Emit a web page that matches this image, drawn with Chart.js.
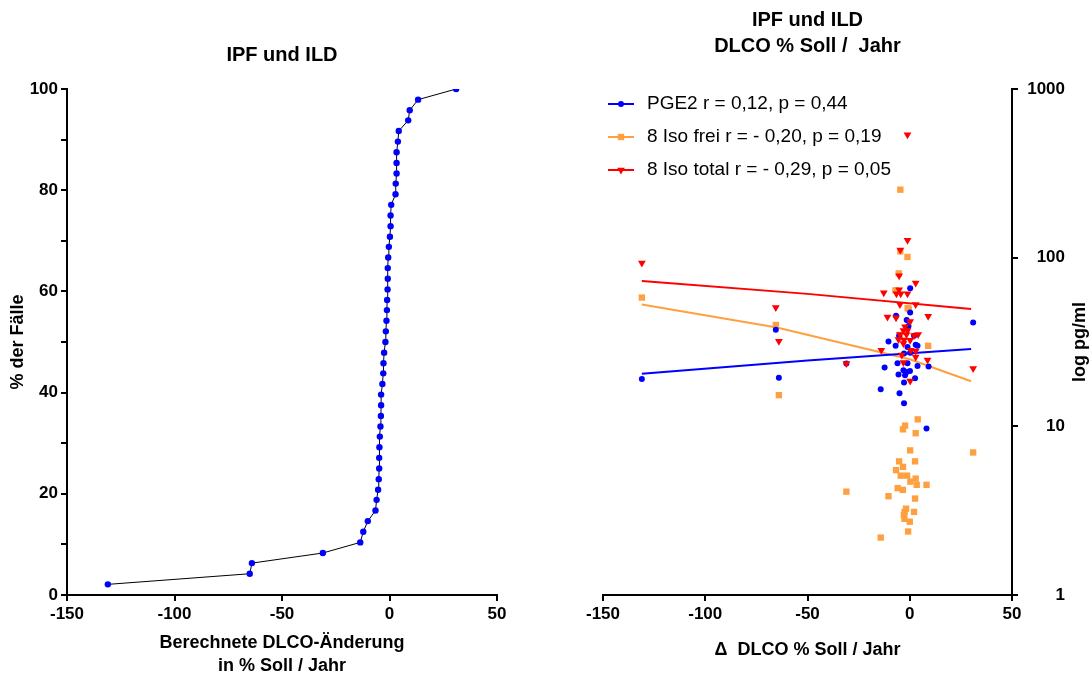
<!DOCTYPE html>
<html>
<head>
<meta charset="utf-8">
<script src="https://cdn.jsdelivr.net/npm/chart.js"></script>
<style>
  body { margin: 0; background: #fff; }
  canvas { position: absolute; top: 0; }
  #links { left: 0; }
  #rechts { left: 546px; }
</style>
</head>
<body>
<canvas id="links" width="546" height="677"></canvas>
<canvas id="rechts" width="546" height="677"></canvas>
<script>
// Kumulative Verteilung der DLCO-Änderung
const kumX = [-131, -65, -64, -31, -13.6, -12.2, -10.1, -6.5, -6.0, -5.3, -5.0, -4.8, -4.8, -4.7, -4.5, -4.2,
  -4.0, -3.9, -3.9, -3.3, -2.9, -2.8, -2.5, -1.9, -1.7, -1.4, -1.2, -1.1, -0.9, -0.8, -0.8, -0.6,
  -0.3, 0.2, 0.5, 0.5, 0.8, 2.8, 2.9, 3.3, 3.3, 3.3, 3.9, 4.3, 8.7, 9.4, 13.3, 31];
const kumY = [2.1, 4.2, 6.3, 8.3, 10.4, 12.5, 14.6, 16.7, 18.8, 20.8, 22.9, 25.0, 27.1, 29.2, 31.3, 33.3,
  35.4, 37.5, 39.6, 41.7, 43.8, 45.8, 47.9, 50.0, 52.1, 54.2, 56.3, 58.3, 60.4, 62.5, 64.6, 66.7,
  68.8, 70.8, 72.9, 75.0, 77.1, 79.2, 81.3, 83.3, 85.4, 87.5, 89.6, 91.7, 93.8, 95.8, 97.9, 100];

// PGE2
const pgeX = [-131, -65.5, -64, -31, 31, 0.2, 0.2, -6.7, -1.5, -0.6, -5.2, 2.1, -10.4, 2.9, 3.8, -6.9,
  -1.1, -2.8, 0.2, -6, -1.1, 3.8, 9.2, -12.3, -3.1, 0.1, -5.5, -2.3, 2.6, -2.8, -14.2, -5.0, -2.8, 8.2, -1.5];
const pgeY = [19.1, 37.4, 19.4, 23.6, 41.3, 65.8, 47.3, 45.3, 42.7, 39.3, 34.4, 34.4, 31.8, 30.5, 30.0, 30.0,
  29.5, 27.0, 27.3, 23.7, 23.7, 22.8, 22.6, 22.3, 21.5, 21.3, 20.3, 20.1, 19.3, 18.2, 16.6, 15.7, 13.7, 9.7, 21.0];

// 8 Iso frei
const freiX = [-131, -65.5, -64, -31, 31, -4.6, -4.6, -1.1, -5.4, -7, -1, -0.5, -4.8, 9.0, 3.9, -2.3,
  -3.3, 2.9, 0.2, -5.2, 2.6, -3.3, -6.7, -4.4, -1.3, 2.9, 0.3, 3.4, 8.2, -5.9, -3.4, -10.4,
  2.6, -1.8, -2.5, 2.1, -2.9, -2.6, 0.0, -0.8, -14.2];
const freiY = [58, 39.9, 15.3, 4.1, 7.0, 253, 109, 101, 80.7, 64, 50.3, 49.6, 34.8, 30, 11, 10.1,
  9.6, 9.1, 7.2, 6.2, 6.2, 5.75, 5.5, 5.1, 5.1, 4.9, 4.7, 4.5, 4.5, 4.3, 4.2, 3.85,
  3.73, 3.25, 3.11, 3.11, 2.98, 2.83, 2.72, 2.38, 2.19];

// 8 Iso total
const totalX = [-131, -65.5, -64, -31, 31, -1.1, -1.1, -4.6, -5.2, 2.9, -12.7, -5.2, -6.5, -4.4, -1.1, -4.8,
  2.9, -10.9, -6.7, 9.0, 0.2, -2.3, -3.1, -1.1, -4.8, -1.6, 2.1, 4.1, -5.5, -2.8, 0.2, -3.1,
  0.5, 2.9, -13.9, -3.9, 2.9, 8.7, -3.1, 0.2];
const totalY = [93, 50.7, 31.9, 23.6, 22, 535, 127, 111, 78, 70.8, 62, 64.6, 61, 61, 61, 52.8,
  52.8, 44.5, 44, 44.9, 41.8, 39, 37, 37, 35, 35, 34.6, 35, 32.7, 32.5, 32.4, 31,
  28.3, 28, 28.3, 26.5, 25.8, 24.7, 23.9, 18.6];

// Regressionsgeraden
const pgeFitX = [-131, -50, 30];
const pgeFitY = [20.5, 24.6, 28.7];
const freiFitX = [-131, -65, 0, 30];
const freiFitY = [52.8, 38.5, 25, 18.5];
const totalFitX = [-131, -50, 30];
const totalFitY = [72.8, 61, 49.6];

const logTicks = [1, 10, 100, 1000];

const legendeTexte = ['PGE2 r = 0,12, p = 0,44', '8 Iso frei r = - 0,20, p = 0,19', '8 Iso total r = - 0,29, p = 0,05'];

const blau = '#0000FF';
const orange = '#FFA040';
const rot = '#FF0000';

Chart.defaults.font.family = "'Liberation Sans', Arial, sans-serif";
Chart.defaults.color = '#000';

const punkte = (xs, ys) => xs.map((x, i) => ({ x: x, y: ys[i] }));

const achse = {
  border: { display: true, color: '#000', width: 2 },
  grid: { drawOnChartArea: false, drawTicks: true, tickLength: 6, color: '#000', lineWidth: 2 },
  ticks: { font: { size: 17, weight: 'bold' }, padding: 3, color: '#000', autoSkip: false, maxRotation: 0 }
};

// Grafik links
const ctxLinks = document.getElementById('links').getContext('2d');
const grafikLinks = new Chart(ctxLinks, {
  type: 'scatter',
  data: {
    datasets: [{
      data: punkte(kumX, kumY),
      showLine: true,
      borderColor: '#000',
      borderWidth: 1,
      pointRadius: 3.2,
      pointBackgroundColor: blau,
      pointBorderWidth: 0
    }]
  },
  options: {
    responsive: false,
    animation: false,
    devicePixelRatio: 1,
    layout: { padding: { left: 0, right: 49, top: 0, bottom: 0 } },
    plugins: {
      legend: { display: false },
      tooltip: { enabled: false },
      title: {
        display: true,
        fullSize: false,
        text: 'IPF und ILD',
        color: '#000',
        font: { size: 20, weight: 'bold', lineHeight: 1.2 },
        padding: { top: 43, bottom: 22 }
      }
    },
    scales: {
      x: {
        ...achse,
        type: 'linear',
        min: -150, max: 50,
        ticks: { ...achse.ticks, stepSize: 50 },
        afterFit: s => { s.height = 82; },
        title: {
          display: true,
          text: ['Berechnete DLCO-Änderung', 'in % Soll / Jahr'],
          color: '#000',
          font: { size: 18, weight: 'bold', lineHeight: 1.25 },
          padding: { top: 0, bottom: 0 }
        }
      },
      y: {
        ...achse,
        min: 0, max: 100,
        ticks: { ...achse.ticks, stepSize: 10, callback: v => (v % 20 === 0 ? v : '') },
        afterFit: s => { s.width = 67; },
        title: {
          display: true,
          text: '% der Fälle',
          color: '#000',
          font: { size: 18, weight: 'bold', lineHeight: 1.2 },
          padding: { top: 7, bottom: 0 }
        }
      }
    }
  }
});

// Legende und rechte Achsenbeschriftung
const rechtsDeko = {
  id: 'rechtsDeko',
  afterDraw(chart) {
    const ctx = chart.ctx;
    const stile = [
      { farbe: blau, pointStyle: 'circle', radius: 3, rotation: 0 },
      { farbe: orange, pointStyle: 'rect', radius: 4.5, rotation: 0 },
      { farbe: rot, pointStyle: 'triangle', radius: 4.5, rotation: 180 }
    ];
    ctx.save();
    legendeTexte.forEach((text, i) => {
      const y = 104 + i * 33;
      const st = stile[i];
      ctx.strokeStyle = st.farbe;
      ctx.lineWidth = 2;
      ctx.beginPath();
      ctx.moveTo(62, y);
      ctx.lineTo(88, y);
      ctx.stroke();
      ctx.fillStyle = st.farbe;
      Chart.helpers.drawPoint(ctx, { pointStyle: st.pointStyle, radius: st.radius, rotation: st.rotation, borderWidth: 0 }, 75, y);
      ctx.fillStyle = '#000';
      ctx.font = "19px 'Liberation Sans', Arial, sans-serif";
      ctx.textAlign = 'left';
      ctx.textBaseline = 'middle';
      ctx.fillText(text, 101, y);
    });
    ctx.translate(534, 342);
    ctx.rotate(-Math.PI / 2);
    ctx.textAlign = 'center';
    ctx.font = "bold 18px 'Liberation Sans', Arial, sans-serif";
    ctx.fillText('log pg/ml', 0, 0);
    ctx.restore();
  }
};

// Grafik rechts
const ctxRechts = document.getElementById('rechts').getContext('2d');
const grafikRechts = new Chart(ctxRechts, {
  type: 'scatter',
  data: {
    datasets: [
      { label: 'PGE2', data: punkte(pgeX, pgeY), pointStyle: 'circle', pointRadius: 3, backgroundColor: blau, borderWidth: 0, order: 2 },
      { label: '8 Iso frei', data: punkte(freiX, freiY), pointStyle: 'rect', pointRadius: 4.5, backgroundColor: orange, borderWidth: 0, order: 3 },
      { label: '8 Iso total', data: punkte(totalX, totalY), pointStyle: 'triangle', pointRotation: 180, pointRadius: 4.5, backgroundColor: rot, borderWidth: 0, order: 1 },
      { data: punkte(pgeFitX, pgeFitY), showLine: true, pointRadius: 0, borderColor: blau, borderWidth: 2, order: 4 },
      { data: punkte(freiFitX, freiFitY), showLine: true, pointRadius: 0, borderColor: orange, borderWidth: 2, order: 5 },
      { data: punkte(totalFitX, totalFitY), showLine: true, pointRadius: 0, borderColor: rot, borderWidth: 2, order: 6 }
    ]
  },
  options: {
    responsive: false,
    animation: false,
    devicePixelRatio: 1,
    layout: { padding: { left: 57, right: 27, top: 0, bottom: 0 } },
    plugins: {
      legend: { display: false },
      tooltip: { enabled: false },
      title: {
        display: true,
        fullSize: false,
        text: ['IPF und ILD', 'DLCO % Soll /  Jahr'],
        color: '#000',
        font: { size: 20, weight: 'bold', lineHeight: 1.3 },
        padding: { top: 7, bottom: 30 }
      }
    },
    scales: {
      x: {
        ...achse,
        type: 'linear',
        min: -150, max: 50,
        ticks: { ...achse.ticks, stepSize: 50 },
        afterFit: s => { s.height = 82; },
        title: {
          display: true,
          text: 'Δ  DLCO % Soll / Jahr',
          color: '#000',
          font: { size: 18, weight: 'bold', lineHeight: 1.25 },
          padding: { top: 0, bottom: 16 }
        }
      },
      y: {
        ...achse,
        type: 'logarithmic',
        position: 'right',
        min: 1, max: 1000,
        afterBuildTicks: s => { s.ticks = logTicks.map(v => ({ value: v })); },
        ticks: {
          ...achse.ticks,
          padding: 9,
          crossAlign: 'far',
          callback: v => String(v)
        },
        afterFit: s => { s.width = 53; }
      }
    }
  },
  plugins: [rechtsDeko]
});
</script>
</body>
</html>
